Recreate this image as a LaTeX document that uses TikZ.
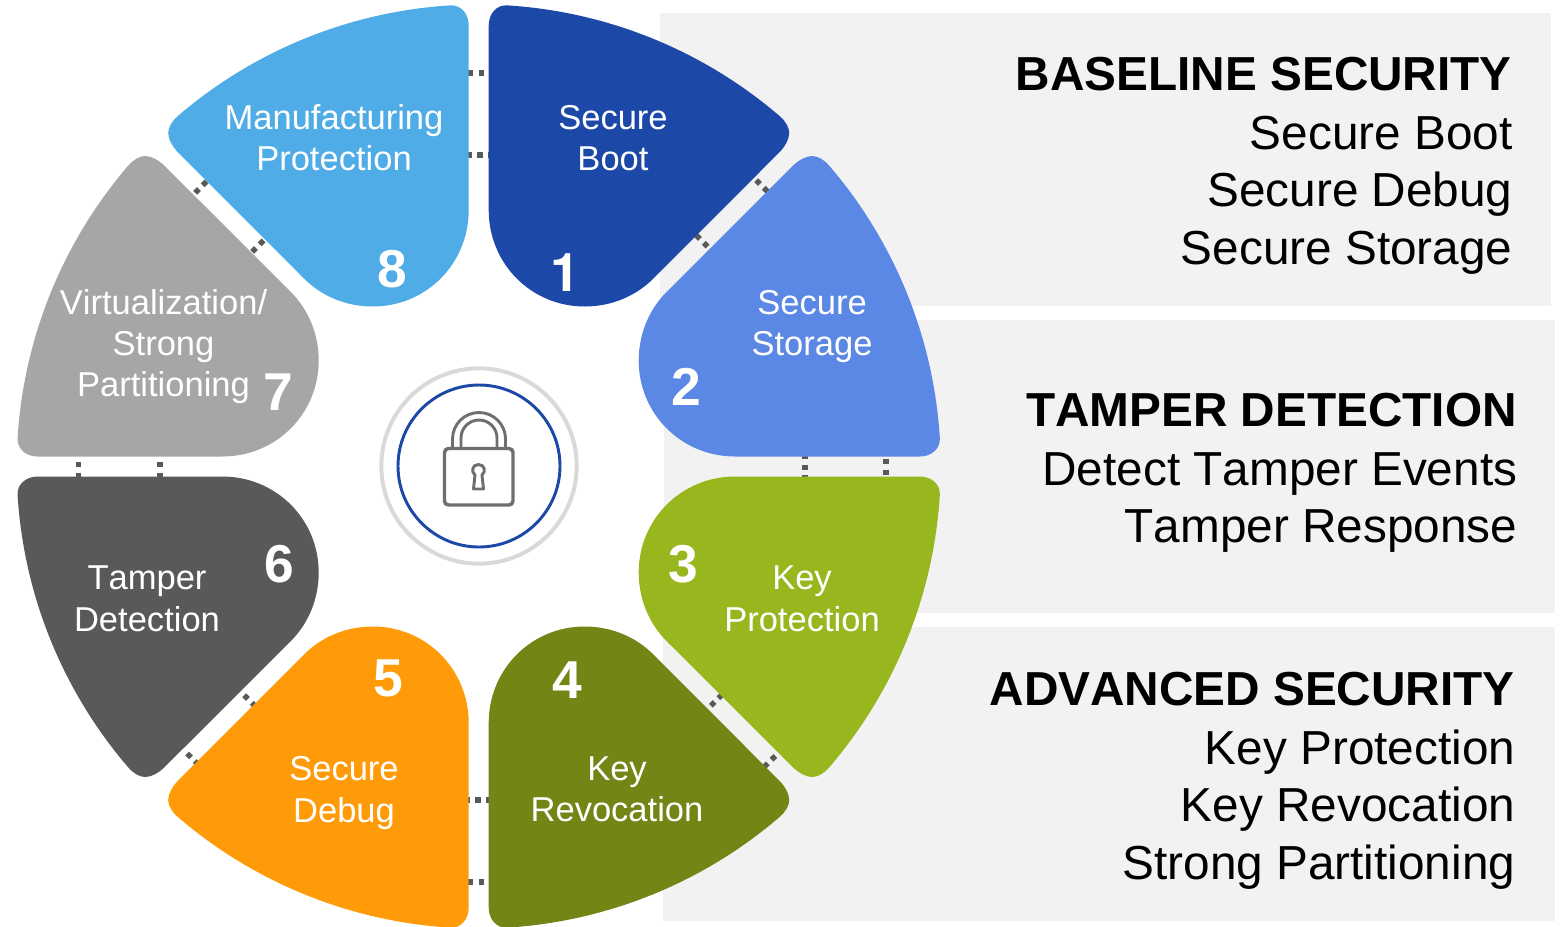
\documentclass[tikz,border=0pt]{standalone}
\usepackage{fontspec}
\setmainfont[Kerning=Off]{Liberation Sans}
\newfontfamily\heros{TeX Gyre Heros}
\definecolor{panel}{HTML}{F2F2F2}
\definecolor{dotc}{HTML}{595959}
\definecolor{pa}{HTML}{1C48A8}
\definecolor{pb}{HTML}{5B87E5}
\definecolor{pc}{HTML}{98B71E}
\definecolor{pd}{HTML}{718615}
\definecolor{pe}{HTML}{FF9A08}
\definecolor{pf}{HTML}{58595B}
\definecolor{pg}{HTML}{A6A6A6}
\definecolor{ph}{HTML}{4FACE6}
\definecolor{lockc}{HTML}{6E6E6E}
\newcommand{\petalshape}{(10,-441) .. controls (10,-452) and (17,-461.5) .. (28,-461.15)
 .. controls (128.7,-455.05) and (224.7,-416) .. (301.2,-350.2)
 .. controls (307,-345) and (310.5,-339) .. (310.5,-333.5)
 .. controls (310.5,-327) and (306,-320) .. (302,-315.5)
 -- (174.6,-187.9)
 .. controls (156.4,-169.7) and (131.7,-160) .. (106,-160)
 .. controls (52.4,-160) and (10,-202.9) .. (10,-256.5) -- cycle}
\tikzset{
 x=.75pt,y=-.75pt,
 panelbox/.style={fill=panel,draw=none},
 dotlink/.style={draw=dotc,line width=4pt,dash pattern=on 4pt off 4pt},
 petaltext/.style={text=white,align=center,font=\fontsize{25.9}{30.9}\selectfont,inner sep=0pt},
 petalnum/.style={text=white,font=\fontsize{40}{48}\bfseries\selectfont,inner sep=0pt},
 sidetext/.style={text=black,align=right,anchor=base east,inner sep=0pt,font=\fontsize{35.8}{43.1}\selectfont},
 sidehead/.style={sidetext,font=\fontsize{35.8}{43.1}\bfseries\selectfont},
}
\newcommand{\dotpair}[5]{\coordinate (#1a) at (#2,#3); \coordinate (#1b) at (#4,#5); \draw[dotlink] (#1a) -- (#1b);}
\begin{document}
\begin{tikzpicture}
\useasboundingbox (0,0) rectangle (1564,926);
\fill[panelbox] (660,13) rectangle (1551,306);
\fill[panelbox] (664,320) rectangle (1555,613);
\fill[panelbox] (663,627) rectangle (1555,921);
% dotted links
\dotpair{la}{468}{73}{484}{73}
\dotpair{lb}{466.5}{155}{491}{155}
\dotpair{lc}{756.2}{180.2}{768}{192}
\dotpair{ld}{696.2}{235.2}{708}{247}
\dotpair{le}{805}{454}{805}{481}
\dotpair{lf}{886}{459}{886}{476}
\dotpair{lg}{710.9}{705.8}{722}{694.7}
\dotpair{lh}{763.9}{767.1}{775.5}{755.8}
\dotpair{li}{464.5}{800}{491}{800}
\dotpair{lj}{468}{882}{484}{882}
\dotpair{lk}{244.2}{695.2}{255}{706}
\dotpair{ll}{187.2}{753.5}{199}{765.3}
\dotpair{lm}{78.7}{462}{78.7}{478}
\dotpair{ln}{160}{462}{160}{478}
\dotpair{lo}{195.2}{192.8}{206.8}{181.2}
\dotpair{lp}{252.2}{251.8}{263.8}{240.2}
% petals
\begin{scope}[shift={(478.7,466.5)}]
\fill[pa] \petalshape;
\begin{scope}[cm={0,1,1,0,(0,0)}] \fill[pb] \petalshape; \end{scope}
\begin{scope}[yscale=-1,cm={0,1,1,0,(0,0)}] \fill[pc] \petalshape; \end{scope}
\begin{scope}[yscale=-1] \fill[pd] \petalshape; \end{scope}
\begin{scope}[xscale=-1,yscale=-1] \fill[pe] \petalshape; \end{scope}
\begin{scope}[xscale=-1,yscale=-1,cm={0,1,1,0,(0,0)}] \fill[pf] \petalshape; \end{scope}
\begin{scope}[xscale=-1,cm={0,1,1,0,(0,0)}] \fill[pg] \petalshape; \end{scope}
\begin{scope}[xscale=-1] \fill[ph] \petalshape; \end{scope}
\end{scope}
% petal labels
\node[petaltext] (t1) at (613,138) {Secure\\Boot};
\node[petaltext] (t2) at (812,326.5) {Secure\\Storage};
\node[petaltext] (t3) at (802,598.8) {Key\\Protection};
\node[petaltext] (t4) at (617,789.5) {Key\\Revocation};
\node[petaltext] (t5) at (344,793) {Secure\\Debug};
\node[petaltext] (t6) at (147,598.8) {Tamper\\Detection};
\node[petaltext] (t7) at (163.5,346.7) {Virtualization/\\Strong\\Partitioning};
\node[petaltext] (t8) at (334,138) {Manufacturing\\Protection};
\node[petalnum] (n1) at (565,272.5) {\heros 1};
\node[petalnum] (n2) at (686.5,387) {2};
\node[petalnum] (n3) at (683,564) {3};
\node[petalnum] (n4) at (567.5,680) {4};
\node[petalnum] (n5) at (388,678) {5};
\node[petalnum] (n6) at (279,564) {6};
\node[petalnum] (n7) at (278,392) {7};
\node[petalnum] (n8) at (392.5,269) {8};
% centre lock
\node[circle,draw=black!15,line width=3pt,minimum size=146.5pt,inner sep=0pt] (ring) at (479,466) {};
\node[circle,draw=pa,line width=2.2pt,minimum size=121.5pt,inner sep=0pt] (disc) at (479,466) {};
\draw[lockc,line width=2.6pt,rounded corners=3pt] (444.5,448.5) rectangle (513,505);
\draw[lockc,line width=2.2pt] (452.5,447) -- (452.5,439) arc[start angle=180,end angle=360,radius=26.5] -- (505.5,447);
\draw[lockc,line width=2.2pt] (461,447) -- (461,438) arc[start angle=180,end angle=360,radius=18] -- (497,447);
\draw[lockc,line width=2.2pt,line join=round] (475,475) .. controls (471,472) and (472,464.5) .. (478.5,464.5) .. controls (485,464.5) and (486,472) .. (482,475) -- (483.5,489) -- (473.5,489) -- cycle;
% side text
\node[sidehead] (s1) at (1512,90.8) {BASELINE SECURITY};
\node[sidetext] (s2) at (1512.8,149.3) {Secure Boot};
\node[sidetext] (s3) at (1512.8,206.3) {Secure Debug};
\node[sidetext] (s4) at (1512.8,264.3) {Secure Storage};
\node[sidehead] (s5) at (1517,426.8) {TAMPER DETECTION};
\node[sidetext] (s6) at (1517.5,485.3) {Detect Tamper Events};
\node[sidetext] (s7) at (1517.5,542.3) {Tamper Response};
\node[sidehead] (s8) at (1515,705.8) {ADVANCED SECURITY};
\node[sidetext] (s9) at (1515.5,764.3) {Key Protection};
\node[sidetext] (s10) at (1515.5,821.3) {Key Revocation};
\node[sidetext] (s11) at (1515.5,879.3) {Strong Partitioning};
\end{tikzpicture}
\end{document}
